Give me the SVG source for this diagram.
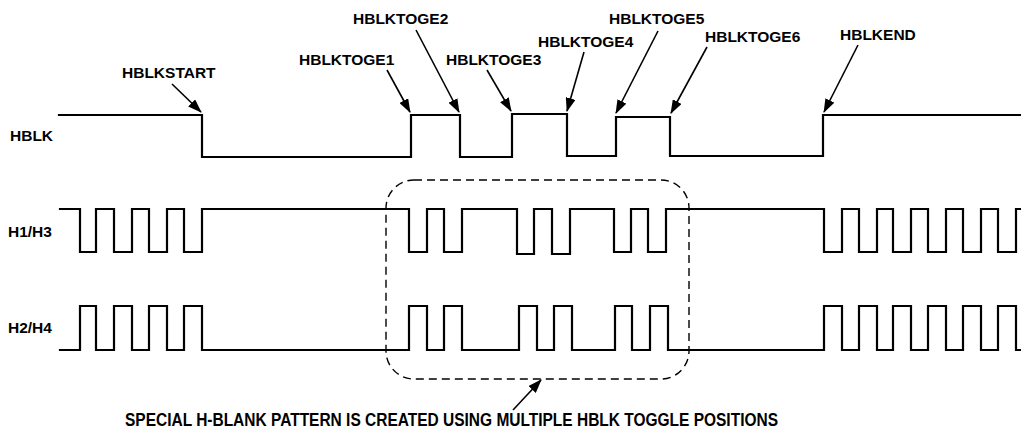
<svg xmlns="http://www.w3.org/2000/svg" width="1021" height="430" viewBox="0 0 1021 430">
<style>
.lbl{font-family:"Liberation Sans",Arial,sans-serif;font-weight:bold;font-size:15.5px;fill:#000}
.wave{fill:none;stroke:#000;stroke-width:2.2;stroke-linejoin:miter;stroke-linecap:square}
.arr{fill:none;stroke:#000;stroke-width:1.6;marker-end:url(#ah)}
.box{fill:none;stroke:#000;stroke-width:1.4;stroke-dasharray:8 5}
</style>
<defs>
<marker id="ah" markerUnits="userSpaceOnUse" markerWidth="14" markerHeight="10" viewBox="0 0 14 10" refX="13" refY="5" orient="auto">
<path d="M0,0 L14,5 L0,10 Z" fill="#000"/>
</marker>
</defs>
<rect width="1021" height="430" fill="#fff"/>
<g id="HBLK">
<text class="lbl" x="10" y="141">HBLK</text>
<path class="wave" d="M59,115 H202 V157 H411 V115 H460 V157 H512 V114 H567 V156 H616 V117 H670 V156 H823 V115 H1022"/>
</g>
<g id="H1H3">
<text class="lbl" x="8" y="237">H1/H3</text>
<path class="wave" d="M60,209 H80 V252 H96 V209 H114 V252 H132 V209 H149 V252 H167 V209 H184 V252 H202 V209 H409 V252 H427 V209 H444 V252 H462 V209 H517 V254 H534 V209 H552 V254 H570 V209 H614 V252 H631 V209 H648 V252 H666 V209 H824 V252 H842 V209 H859 V252 H877 V209 H893 V252 H911 V209 H928 V252 H946 V209 H963 V252 H981 V209 H998 V252 H1016 V209 H1022"/>
</g>
<g id="H2H4">
<text class="lbl" x="8" y="333">H2/H4</text>
<path class="wave" d="M60,350 H80 V306 H96 V350 H114 V306 H132 V350 H149 V306 H167 V350 H184 V306 H202 V350 H409 V306 H427 V350 H444 V306 H462 V350 H519 V306 H537 V350 H554 V306 H572 V350 H615 V306 H632 V350 H650 V306 H668 V350 H824 V306 H842 V350 H859 V306 H877 V350 H893 V306 H911 V350 H928 V306 H946 V350 H963 V306 H981 V350 H998 V306 H1016 V350 H1022"/>
</g>
<g id="special-box">
<rect class="box" x="386" y="180" width="303" height="199" rx="28" ry="28"/>
</g>
<g id="lbl-hblkstart"><text class="lbl" x="122" y="78">HBLKSTART</text></g>
<g id="lbl-toge1"><text class="lbl" x="299" y="65">HBLKTOGE1</text></g>
<g id="lbl-toge2"><text class="lbl" x="353" y="24">HBLKTOGE2</text></g>
<g id="lbl-toge3"><text class="lbl" x="446" y="65">HBLKTOGE3</text></g>
<g id="lbl-toge4"><text class="lbl" x="538" y="47">HBLKTOGE4</text></g>
<g id="lbl-toge5"><text class="lbl" x="609" y="24">HBLKTOGE5</text></g>
<g id="lbl-toge6"><text class="lbl" x="705" y="42">HBLKTOGE6</text></g>
<g id="lbl-hblkend"><text class="lbl" x="840" y="40">HBLKEND</text></g>
<g id="lbl-note"><text class="lbl" x="125" y="426" style="font-size:18px" textLength="653" lengthAdjust="spacingAndGlyphs">SPECIAL H-BLANK PATTERN IS CREATED USING MULTIPLE HBLK TOGGLE POSITIONS</text></g>
<g id="connectors">
<line class="arr" x1="172" y1="84" x2="201" y2="112"/>
<line class="arr" x1="387" y1="70" x2="410" y2="112"/>
<line class="arr" x1="416" y1="30" x2="459" y2="112"/>
<line class="arr" x1="487" y1="70" x2="511" y2="111"/>
<line class="arr" x1="584" y1="52" x2="567" y2="111"/>
<line class="arr" x1="658" y1="31" x2="616" y2="113"/>
<line class="arr" x1="707" y1="47" x2="671" y2="113"/>
<line class="arr" x1="858" y1="45" x2="824" y2="112"/>
<line class="arr" x1="513" y1="410" x2="541" y2="380"/>
</g>
</svg>
